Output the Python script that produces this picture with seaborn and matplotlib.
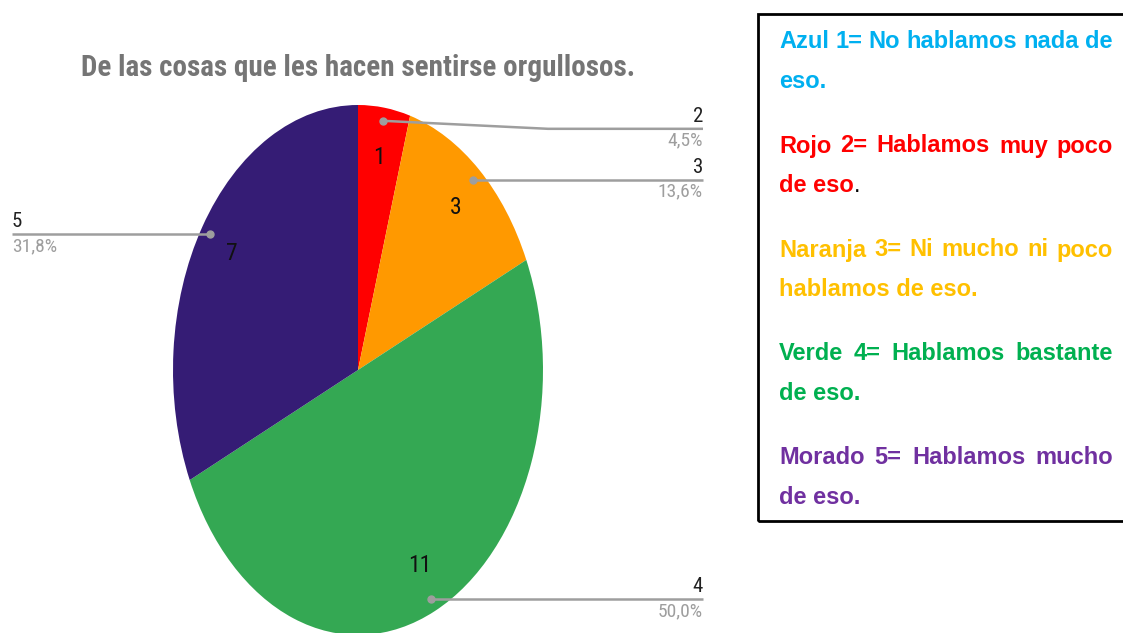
import matplotlib
matplotlib.use("Agg")
import matplotlib.pyplot as plt
import seaborn as sns
import numpy as np
from matplotlib import font_manager
from matplotlib.font_manager import FontProperties
from matplotlib.patches import Rectangle

# ---- data ----
categories = ["2", "3", "4", "5"]
counts = [1, 3, 11, 7]
slice_colors = ["#FF0000", "#FF9900", "#34A853", "#351C75"]
title = "De las cosas que les hacen sentirse orgullosos."

# key text, one entry per printed line: (text, colour, justified)
key_lines = [
    ("Azul 1= No hablamos nada de", "#00B0F0", True),
    ("eso.", "#00B0F0", False),
    ("Rojo 2= Hablamos muy poco", "#FF0000", True),
    ("de eso", "#FF0000", False),
    ("Naranja 3= Ni mucho ni poco", "#FFC000", True),
    ("hablamos de eso.", "#FFC000", False),
    ("Verde 4= Hablamos bastante", "#00B050", True),
    ("de eso.", "#00B050", False),
    ("Morado 5= Hablamos mucho", "#7030A0", True),
    ("de eso.", "#7030A0", False),
]

sns.set_theme(style="white")


def pick_font(*names):
    for n in names:
        try:
            font_manager.findfont(FontProperties(family=n), fallback_to_default=False)
            return n
        except ValueError:
            continue
    return "DejaVu Sans"


narrow = pick_font("Liberation Sans Narrow", "Roboto Condensed", "Roboto")
arial = pick_font("Liberation Sans", "Arial", "DejaVu Sans")
plt.rcParams["font.family"] = [narrow, "DejaVu Sans"]

W, H = 1123, 633
fig = plt.figure(figsize=(W / 100, H / 100), dpi=100)
fig.patch.set_facecolor("white")
ax = fig.add_axes([0, 0, 1, 1])

# pie geometry (pixels): centre and the two radii of the stretched pie
cx, cy, rx, ry = 358, 370, 185, 265
total = sum(counts)

wedges, _, autotexts = ax.pie(
    counts,
    colors=slice_colors,
    startangle=90,
    counterclock=False,
    radius=1,
    autopct=lambda p: f"{round(p * total / 100)}",
    pctdistance=0.81,
    wedgeprops=dict(linewidth=0),
    textprops=dict(fontsize=17, color="#111111", family=narrow),
)
ax.set_aspect("auto")
ax.set_xlim((0 - cx) / rx, (W - cx) / rx)
ax.set_ylim((cy - H) / ry, cy / ry)
ax.axis("off")


def px_x(x):
    return (x - cx) / rx


# leader lines with category and share labels
line_col = "#9E9E9E"
label_drop = [8, 0, 0, 0]      # pixels the leader end sits below its dot
label_side = ["right", "right", "right", "left"]
cum = 0
for i, (cat, v) in enumerate(zip(categories, counts)):
    mid = 90 - 360 * (cum + v / 2) / total
    cum += v
    t = np.deg2rad(mid)
    dx, dy = 0.95 * np.cos(t), 0.95 * np.sin(t)
    y_line = dy - label_drop[i] / ry
    pct = f"{100 * v / total:.1f}".replace(".", ",") + "%"
    if label_side[i] == "right":
        x_end = px_x(703)
        if label_drop[i]:
            xs, ys = [dx, px_x(548), x_end], [dy, y_line, y_line]
        else:
            xs, ys = [dx, x_end], [dy, y_line]
        ha = "right"
    else:
        x_end = px_x(12)
        xs, ys = [dx, x_end], [dy, y_line]
        ha = "left"
    ax.plot(xs, ys, color=line_col, lw=1.8, solid_capstyle="butt", zorder=3)
    ax.plot([dx], [dy], "o", color=line_col, ms=5, zorder=4)
    ax.text(x_end, y_line + 3 / ry, cat, ha=ha, va="bottom", fontsize=15,
            color="#212121", family=narrow)
    ax.text(x_end, y_line - 3 / ry, pct, ha=ha, va="top", fontsize=14,
            color="#9E9E9E", family=narrow)

# title
fig.text(358 / W, 1 - 68 / H, title, ha="center", va="center", fontsize=21,
         fontweight="bold", color="#757575", family=narrow)

# boxed key on the right
fig.patches.append(Rectangle((758 / W, 1 - 521 / H), 400 / W, 507 / H,
                             transform=fig.transFigure, fill=False,
                             edgecolor="black", lw=2, clip_on=False))

renderer = fig.canvas.get_renderer()
x_left, x_right = 779, 1113
line_centres = [42, 82, 146, 186, 250, 290, 354, 394, 458, 498]
ksize = 17
kfont = dict(fontsize=ksize, fontweight="bold", family=arial)
for (txt, col, justified), yc in zip(key_lines, line_centres):
    yf = 1 - yc / H
    words = txt.split(" ")
    if justified and len(words) > 1:
        objs = [fig.text(0, yf, w, color=col, va="center", ha="left", **kfont) for w in words]
        widths = [o.get_window_extent(renderer).width for o in objs]
        gap = (x_right - x_left - sum(widths)) / (len(words) - 1)
        x = x_left
        for o, w in zip(objs, widths):
            o.set_x(x / W)
            x += w + gap
    else:
        o = fig.text(x_left / W, yf, txt, color=col, va="center", ha="left", **kfont)
        if txt == "de eso" and col == "#FF0000":
            w = o.get_window_extent(renderer).width
            fig.text((x_left + w) / W, yf, ".", color="black", va="center",
                     ha="left", fontsize=ksize, family=arial)

fig.savefig("out.png", dpi=100, facecolor="white")
